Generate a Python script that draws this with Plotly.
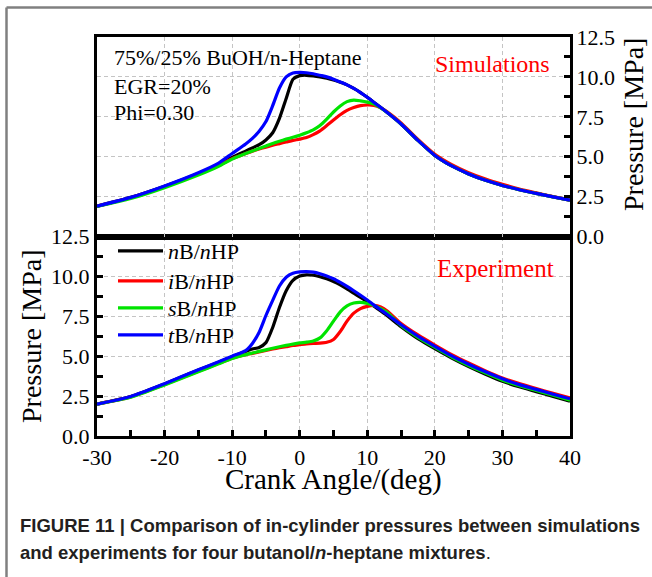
import plotly.graph_objects as go

# ---------------- data ----------------
crank_angle = [-30, -25, -20, -15, -12, -10, -8, -7, -6, -5, -4, -3, -2, -1, 0, 1, 2, 3, 4, 5,
               6, 7, 8, 9, 10, 11, 12, 13, 15, 17.5, 20, 22.5, 25, 27.5, 30, 32.5, 35, 37.5, 40]

series_names = ['<i>n</i>B/<i>n</i>HP', '<i>i</i>B/<i>n</i>HP',
                '<i>s</i>B/<i>n</i>HP', '<i>t</i>B/<i>n</i>HP']
series_colors = ['#000000', '#ff0000', '#00e400', '#0000ff']

# Simulations (upper panel), pressure in MPa
sim_nB = [1.9, 2.45, 3.15, 3.95, 4.5, 4.95, 5.35, 5.55, 5.75, 6.05, 6.5, 7.4, 8.65, 9.85, 10.08, 10.1,
          10.06, 10.0, 9.92, 9.8, 9.66, 9.5, 9.28, 9.02, 8.72, 8.4, 8.08, 7.75, 7.05, 6.02, 5.08,
          4.42, 3.92, 3.52, 3.2, 2.93, 2.7, 2.48, 2.28]
sim_iB = [1.9, 2.43, 3.12, 3.92, 4.45, 4.88, 5.2, 5.35, 5.48, 5.6, 5.72, 5.82, 5.92, 6.02, 6.1, 6.2,
          6.38, 6.62, 6.95, 7.3, 7.63, 7.9, 8.08, 8.2, 8.24, 8.22, 8.06, 7.8, 7.12, 6.08, 5.15,
          4.5, 4.0, 3.6, 3.27, 2.98, 2.74, 2.5, 2.28]
sim_sB = [1.88, 2.38, 3.06, 3.85, 4.4, 4.85, 5.2, 5.36, 5.52, 5.67, 5.83, 5.97, 6.1, 6.22, 6.35, 6.5,
          6.68, 6.95, 7.35, 7.8, 8.18, 8.45, 8.55, 8.5, 8.42, 8.3, 8.06, 7.75, 7.05, 6.02, 5.08,
          4.42, 3.92, 3.52, 3.2, 2.93, 2.7, 2.48, 2.27]
sim_tB = [1.9, 2.45, 3.17, 4.0, 4.6, 5.2, 5.8, 6.15, 6.6, 7.2, 8.2, 9.3, 10.0, 10.25, 10.28, 10.26,
          10.2, 10.1, 10.0, 9.86, 9.68, 9.5, 9.28, 9.02, 8.72, 8.4, 8.08, 7.75, 7.05, 6.02, 5.08,
          4.42, 3.92, 3.52, 3.2, 2.93, 2.7, 2.48, 2.28]

# Experiment (lower panel), pressure in MPa
exp_nB = [2.0, 2.47, 3.26, 4.13, 4.62, 4.97, 5.3, 5.45, 5.55, 5.85, 6.8, 8.05, 9.1, 9.75, 10.02, 10.1,
          10.07, 9.98, 9.85, 9.68, 9.47, 9.22, 8.95, 8.68, 8.42, 8.13, 7.83, 7.52, 6.85, 6.1, 5.47,
          4.88, 4.35, 3.87, 3.43, 3.08, 2.78, 2.48, 2.18]
exp_iB = [2.0, 2.45, 3.22, 4.05, 4.55, 4.88, 5.1, 5.18, 5.27, 5.36, 5.45, 5.53, 5.6, 5.67, 5.72, 5.77,
          5.8, 5.82, 5.87, 6.05, 6.55, 7.2, 7.7, 7.98, 8.12, 8.18, 8.08, 7.82, 7.05, 6.33, 5.7,
          5.1, 4.57, 4.08, 3.64, 3.28, 2.97, 2.67, 2.38]
exp_sB = [2.0, 2.43, 3.2, 4.02, 4.52, 4.85, 5.1, 5.2, 5.3, 5.4, 5.5, 5.59, 5.68, 5.76, 5.83, 5.88,
          5.95, 6.15, 6.6, 7.2, 7.78, 8.15, 8.33, 8.37, 8.3, 8.18, 7.98, 7.72, 6.92, 6.18, 5.55,
          4.95, 4.42, 3.95, 3.5, 3.15, 2.85, 2.55, 2.25]
exp_tB = [2.0, 2.48, 3.28, 4.15, 4.65, 5.0, 5.35, 5.8, 6.5, 7.55, 8.5, 9.4, 9.95, 10.2, 10.28, 10.3,
          10.27, 10.17, 10.03, 9.85, 9.62, 9.37, 9.1, 8.82, 8.52, 8.2, 7.9, 7.6, 6.97, 6.25, 5.62,
          5.02, 4.5, 4.02, 3.58, 3.22, 2.92, 2.62, 2.33]

y_ticks = [0.0, 2.5, 5.0, 7.5, 10.0, 12.5]
x_ticks = [-30, -20, -10, 0, 10, 20, 30, 40]
x_tick_labels = ['-30', '-20', '-10', '0', '10', '20', '30', '40']

sim_series = [sim_nB, sim_iB, sim_sB, sim_tB]
exp_series = [exp_nB, exp_iB, exp_sB, exp_tB]

# ---------------- figure ----------------
SERIF = 'Liberation Serif'
legend_ids = ['legend', 'legend2', 'legend3', 'legend4']
fig = go.Figure()

for name, color, vals in zip(series_names, series_colors, sim_series):
    fig.add_trace(go.Scatter(x=crank_angle, y=vals, xaxis='x2', yaxis='y2', mode='lines',
                             name=name, showlegend=False,
                             line=dict(color=color, width=3.2, shape='spline', smoothing=0.6)))
for name, color, vals, lg in zip(series_names, series_colors, exp_series, legend_ids):
    fig.add_trace(go.Scatter(x=crank_angle, y=vals, xaxis='x', yaxis='y', mode='lines',
                             name=name, showlegend=True, legend=lg,
                             line=dict(color=color, width=3.2, shape='spline', smoothing=0.6)))

grid = dict(showgrid=True, gridcolor='#c4c4c4', gridwidth=1, griddash='4px,3px', zeroline=False)
frame = dict(showline=True, linewidth=3, linecolor='black', mirror=True)
tickstyle = dict(ticks='inside', ticklen=6, tickwidth=2.5, tickcolor='black')


def px_x(px):
    return (px - 97) / 473.0


def px_y(py):
    return (436 - py) / 399.0


legend_rows = [251, 281, 308, 335]
legend_layout = {}
for lg, row in zip(legend_ids, legend_rows):
    legend_layout[lg] = dict(x=px_x(113), y=px_y(row), xanchor='left', yanchor='middle',
                             bgcolor='rgba(0,0,0,0)', borderwidth=0,
                             font=dict(family=SERIF, size=22), itemwidth=45)

fig.update_layout(
    width=652, height=577,
    margin=dict(l=97, r=82, t=37, b=141, autoexpand=False),
    paper_bgcolor='white', plot_bgcolor='white',
    font=dict(family=SERIF, color='black', size=22),
    xaxis=dict(domain=[0, 1], anchor='y', range=[-30, 40], tickvals=x_ticks, ticktext=x_tick_labels,
               minor=dict(dtick=5, tick0=0, ticks='inside', ticklen=6, tickwidth=2.5,
                          tickcolor='black', showgrid=False),
               tickfont=dict(family=SERIF, size=22),
               **tickstyle, **frame, **grid),
    xaxis2=dict(domain=[0, 1], anchor='y2', matches='x', range=[-30, 40], tickvals=x_ticks,
                showticklabels=False, ticks='', **frame, **grid),
    yaxis=dict(domain=[0, 0.5], anchor='x', range=[0, 12.5], tickvals=y_ticks, tickformat='.1f',
               minor=dict(dtick=1.25, tick0=0, ticks='inside', ticklen=6, tickwidth=2.5,
                          tickcolor='black', showgrid=False),
               tickfont=dict(family=SERIF, size=22),
               title=dict(text='Pressure [MPa]', font=dict(family=SERIF, size=28), standoff=2),
               **tickstyle, **frame, **grid),
    yaxis2=dict(domain=[0.5, 1], anchor='x2', side='right', range=[0, 12.5], tickvals=y_ticks,
                tickformat='.1f', ticklabelstandoff=-1,
                minor=dict(dtick=1.25, tick0=0, ticks='inside', ticklen=6, tickwidth=2.5,
                           tickcolor='black', showgrid=False),
                tickfont=dict(family=SERIF, size=22),
                **tickstyle, **frame, **grid),
    showlegend=True,
    **legend_layout,
)

annotations = [
    dict(text='75%/25% BuOH/n-Heptane', x=px_x(112), y=px_y(57), xanchor='left', yanchor='middle',
         font=dict(family=SERIF, size=22, color='black')),
    dict(text='EGR=20%', x=px_x(112), y=px_y(86), xanchor='left', yanchor='middle',
         font=dict(family=SERIF, size=22, color='black')),
    dict(text='Phi=0.30', x=px_x(112), y=px_y(112.5), xanchor='left', yanchor='middle',
         font=dict(family=SERIF, size=22, color='black')),
    dict(text='Simulations', x=px_x(552), y=px_y(64), xanchor='right', yanchor='middle',
         font=dict(family=SERIF, size=24, color='#ff0000')),
    dict(text='Experiment', x=px_x(556), y=px_y(268), xanchor='right', yanchor='middle',
         font=dict(family=SERIF, size=25, color='#ff0000')),
    # right-hand axis title of the upper panel
    dict(text='Pressure [MPa]', x=px_x(633), y=px_y(125), xanchor='center', yanchor='middle',
         textangle=-90, font=dict(family=SERIF, size=28, color='black')),
    # shared x-axis title
    dict(text='Crank Angle/(deg)', x=px_x(333), y=px_y(479), xanchor='center', yanchor='middle',
         font=dict(family=SERIF, size=29, color='black')),
    dict(text='<b>FIGURE 11 | Comparison of in-cylinder pressures between simulations</b>',
         x=px_x(18), y=px_y(525), xanchor='left', yanchor='middle',
         font=dict(family='Liberation Sans', size=18.5, color='#231f20')),
    dict(text='<b>and experiments for four butanol/<i>n</i>-heptane mixtures</b>.',
         x=px_x(18), y=px_y(552), xanchor='left', yanchor='middle',
         font=dict(family='Liberation Sans', size=18.5, color='#231f20')),
]
for a in annotations:
    a.update(xref='paper', yref='paper', showarrow=False)
fig.update_layout(annotations=annotations)

# outer figure frame (cropped at right and bottom)
fig.add_shape(type='line', xref='paper', yref='paper', x0=px_x(6.5), x1=px_x(6.5),
              y0=px_y(7.5), y1=px_y(600), line=dict(color='#808080', width=2.5))
fig.add_shape(type='line', xref='paper', yref='paper', x0=px_x(6.5), x1=px_x(700),
              y0=px_y(7.5), y1=px_y(7.5), line=dict(color='#808080', width=2.5))

fig.write_html('out.html', config={'displayModeBar': False},
               post_script="document.body.style.margin='0px';")
